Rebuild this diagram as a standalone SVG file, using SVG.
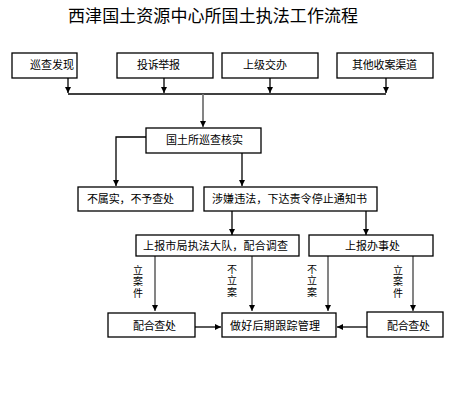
<svg xmlns="http://www.w3.org/2000/svg" width="458" height="420" viewBox="0 0 458 420">
<defs>
<marker id="ah" viewBox="0 0 10 10" refX="10" refY="5" markerWidth="6" markerHeight="6" markerUnits="userSpaceOnUse" orient="auto">
<path d="M0,0 L10,5 L0,10 z" fill="#000"/>
</marker>
<style>
.box{fill:#fff;stroke:#000;stroke-width:1.3}
.t{font-family:"Noto Sans CJK SC","Liberation Sans",sans-serif;font-size:11px;fill:#000}
.v{font-family:"Noto Sans CJK SC","Liberation Sans",sans-serif;font-size:10px;fill:#000;writing-mode:vertical-rl;letter-spacing:1.5px}
.ttl{font-family:"Noto Sans CJK SC","Liberation Sans",sans-serif;font-size:17px;fill:#000}
.c{fill:none;stroke:#000;stroke-width:1.3}
.g{fill:none;stroke:#777;stroke-width:1.8}
</style>
</defs>
<rect width="458" height="420" fill="#fff"/>
<text class="ttl" x="68" y="22" textLength="290">西津国土资源中心所国土执法工作流程</text>

<g id="connectors">
<path class="c" d="M68,78 V93" marker-end="url(#ah)"/>
<path class="c" d="M164,78 V93" marker-end="url(#ah)"/>
<path class="c" d="M270,78 V93" marker-end="url(#ah)"/>
<path class="c" d="M386,78 V93" marker-end="url(#ah)"/>
<path class="c" d="M68,94 H386"/>
<path class="g" d="M203,94 V127" marker-end="url(#ah)"/>
<path class="c" d="M146,137 H116 V186" marker-end="url(#ah)"/>
<path class="c" d="M242,153 V186" marker-end="url(#ah)"/>
<path class="c" d="M232,211 V235" marker-end="url(#ah)"/>
<path class="c" d="M366,211 V235" marker-end="url(#ah)"/>
<path class="g" d="M155,256 V311" marker-end="url(#ah)"/>
<path class="g" d="M252,256 V311" marker-end="url(#ah)"/>
<path class="g" d="M328,256 V311" marker-end="url(#ah)"/>
<path class="g" d="M413,256 V311" marker-end="url(#ah)"/>
<path class="c" d="M195,327 H221" marker-end="url(#ah)"/>
<path class="c" d="M367,327 H337" marker-end="url(#ah)"/>
<text class="v" x="138" y="265">立案件</text>
<text class="v" x="232" y="264">不立案</text>
<text class="v" x="312" y="264">不立案</text>
<text class="v" x="398" y="265">立案件</text>
</g>

<g id="n1"><rect class="box" x="12" y="53" width="65" height="25"/><text class="t" x="30" y="69" textLength="44">巡查发现</text></g>
<g id="n2"><rect class="box" x="117" y="53" width="96" height="25"/><text class="t" x="137" y="69" textLength="43">投诉举报</text></g>
<g id="n3"><rect class="box" x="222" y="53" width="96" height="25"/><text class="t" x="243" y="69" textLength="44">上级交办</text></g>
<g id="n4"><rect class="box" x="337" y="53" width="96" height="25"/><text class="t" x="352" y="69" textLength="65">其他收案渠道</text></g>
<g id="n5"><rect class="box" x="146" y="128" width="115" height="25"/><text class="t" x="166" y="144" textLength="77">国土所巡查核实</text></g>
<g id="n6"><rect class="box" x="78" y="187" width="115" height="24"/><text class="t" x="87" y="203" textLength="87">不属实，不予查处</text></g>
<g id="n7"><rect class="box" x="204" y="187" width="173" height="24"/><text class="t" x="212" y="203" textLength="155">涉嫌违法，下达责令停止通知书</text></g>
<g id="n8"><rect class="box" x="136" y="235" width="163" height="21"/><text class="t" x="143" y="250" textLength="145">上报市局执法大队，配合调查</text></g>
<g id="n9"><rect class="box" x="309" y="235" width="124" height="21"/><text class="t" x="345" y="250" textLength="55">上报办事处</text></g>
<g id="n10"><rect class="box" x="108" y="313" width="87" height="24"/><text class="t" x="133" y="330" textLength="43">配合查处</text></g>
<g id="n11"><rect class="box" x="222" y="313" width="114" height="24"/><text class="t" x="230" y="330" textLength="90">做好后期跟踪管理</text></g>
<g id="n12"><rect class="box" x="367" y="312" width="76" height="25"/><text class="t" x="387" y="330" textLength="43">配合查处</text></g>
</svg>
